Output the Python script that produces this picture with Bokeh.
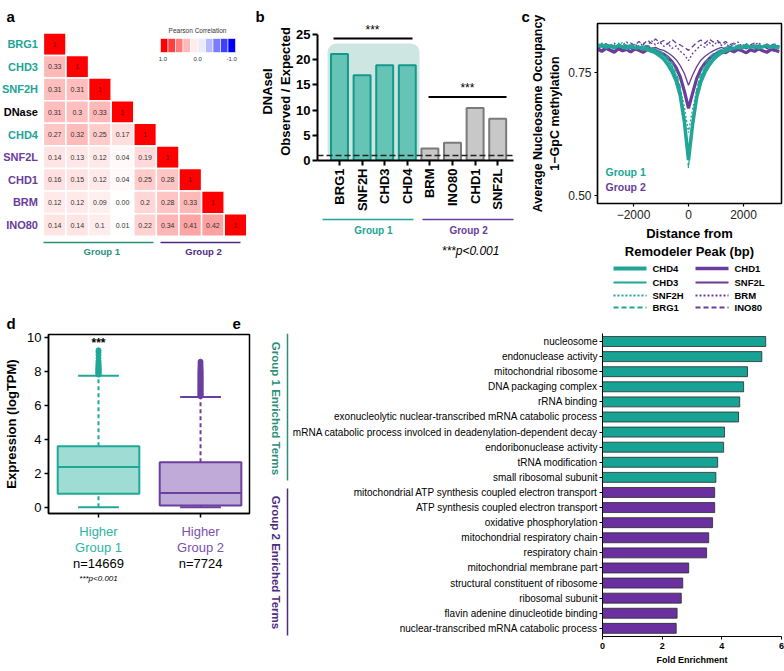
from math import pi
from bokeh.plotting import figure
from bokeh.models import (Range1d, FixedTicker, Span, BoxAnnotation, ColumnDataSource,
                          LinearColorMapper, NumeralTickFormatter)
from bokeh.core.properties import value, field
from bokeh.embed import file_html
from bokeh.resources import INLINE

FONT = "Liberation Sans"
TEAL = "#20a596"
TEAL_DK = "#2b8f7a"
PURPLE = "#6a3d9a"
PURPLE_DK = "#4e2a80"

# ---------------- DATA ----------------
# (a) correlation heatmap, lower triangle
hm_labels = ["BRG1", "CHD3", "SNF2H", "DNase", "CHD4", "SNF2L", "CHD1", "BRM", "INO80"]
hm_group = ["g1", "g1", "g1", "dn", "g1", "g2", "g2", "g2", "g2"]
hm_text = [
    ["1"],
    ["0.33", "1"],
    ["0.31", "0.31", "1"],
    ["0.31", "0.3", "0.33", "1"],
    ["0.27", "0.32", "0.25", "0.17", "1"],
    ["0.14", "0.13", "0.12", "0.04", "0.19", "1"],
    ["0.16", "0.15", "0.12", "0.04", "0.25", "0.28", "1"],
    ["0.12", "0.12", "0.09", "0.00", "0.2", "0.28", "0.33", "1"],
    ["0.14", "0.14", "0.1", "0.01", "0.22", "0.34", "0.41", "0.42", "1"],
]
cb_vals = [1.0, 0.78, 0.56, 0.33, 0.11, -0.11, -0.33, -0.56, -0.78, -1.0]
cb_ticks = ["1.0", "0.0", "-1.0"]

# (b) DNaseI observed / expected
b_cats = ["BRG1", "SNF2H", "CHD3", "CHD4", "BRM", "INO80", "CHD1", "SNF2L"]
b_vals = [21.1, 16.9, 18.9, 18.9, 2.4, 3.5, 10.4, 8.3]
b_group = [1, 1, 1, 1, 2, 2, 2, 2]
b_expected = 1.0

# (c) nucleosome occupancy profiles
c_x = [-3300, -3150, -3000, -2850, -2700, -2550, -2400, -2250, -2100, -1950, -1800, -1650,
       -1500, -1350, -1200, -1050, -900, -750, -600, -450, -300, -150, 0, 150, 300, 450,
       600, 750, 900, 1050, 1200, 1350, 1500, 1650, 1800, 1950, 2100, 2250, 2400, 2550,
       2700, 2850, 3000, 3150, 3300]
c_chd4 = [0.803, 0.806, 0.801, 0.804, 0.800, 0.805, 0.802, 0.799, 0.803, 0.800, 0.801, 0.798,
          0.797, 0.794, 0.790, 0.784, 0.777, 0.766, 0.752, 0.733, 0.703, 0.650, 0.572, 0.645,
          0.700, 0.731, 0.751, 0.765, 0.776, 0.784, 0.790, 0.794, 0.797, 0.799, 0.801, 0.800,
          0.803, 0.801, 0.804, 0.800, 0.802, 0.805, 0.801, 0.803, 0.800]
c_chd3 = [0.806, 0.801, 0.808, 0.803, 0.799, 0.807, 0.804, 0.800, 0.806, 0.802, 0.799, 0.804,
          0.800, 0.798, 0.795, 0.790, 0.784, 0.775, 0.762, 0.742, 0.712, 0.655, 0.578, 0.650,
          0.708, 0.740, 0.760, 0.773, 0.783, 0.789, 0.794, 0.797, 0.801, 0.798, 0.804, 0.800,
          0.806, 0.802, 0.799, 0.805, 0.801, 0.807, 0.803, 0.800, 0.805]
c_snf2h = [0.805, 0.810, 0.803, 0.808, 0.801, 0.806, 0.811, 0.804, 0.807, 0.800, 0.805, 0.802,
           0.806, 0.801, 0.797, 0.792, 0.785, 0.776, 0.763, 0.745, 0.718, 0.680, 0.628, 0.676,
           0.715, 0.743, 0.760, 0.774, 0.784, 0.791, 0.796, 0.800, 0.803, 0.807, 0.801, 0.805,
           0.809, 0.802, 0.806, 0.800, 0.804, 0.808, 0.802, 0.806, 0.801]
c_brg1 = [0.809, 0.803, 0.807, 0.800, 0.805, 0.810, 0.802, 0.806, 0.801, 0.808, 0.803, 0.800,
          0.805, 0.801, 0.798, 0.794, 0.789, 0.781, 0.770, 0.752, 0.720, 0.660, 0.556, 0.655,
          0.716, 0.750, 0.768, 0.780, 0.788, 0.793, 0.797, 0.801, 0.804, 0.800, 0.806, 0.802,
          0.808, 0.803, 0.800, 0.807, 0.802, 0.806, 0.801, 0.808, 0.803]
c_chd1 = [0.797, 0.793, 0.799, 0.795, 0.791, 0.798, 0.794, 0.797, 0.792, 0.798, 0.795, 0.791,
          0.797, 0.793, 0.795, 0.790, 0.787, 0.781, 0.772, 0.760, 0.741, 0.712, 0.677, 0.708,
          0.738, 0.757, 0.769, 0.778, 0.785, 0.789, 0.793, 0.790, 0.796, 0.792, 0.797, 0.794,
          0.790, 0.796, 0.793, 0.798, 0.794, 0.791, 0.797, 0.795, 0.792]
c_snf2l = [0.800, 0.796, 0.803, 0.798, 0.794, 0.801, 0.797, 0.804, 0.799, 0.795, 0.802, 0.798,
           0.803, 0.799, 0.801, 0.797, 0.795, 0.790, 0.784, 0.776, 0.764, 0.748, 0.724, 0.745,
           0.762, 0.775, 0.783, 0.789, 0.794, 0.798, 0.801, 0.797, 0.803, 0.799, 0.796, 0.802,
           0.798, 0.804, 0.800, 0.797, 0.803, 0.799, 0.795, 0.801, 0.798]
c_brm = [0.802, 0.807, 0.799, 0.805, 0.810, 0.801, 0.806, 0.812, 0.803, 0.808, 0.800, 0.811,
         0.804, 0.815, 0.806, 0.812, 0.803, 0.809, 0.799, 0.804, 0.793, 0.786, 0.774, 0.789,
         0.797, 0.806, 0.801, 0.811, 0.804, 0.813, 0.805, 0.809, 0.802, 0.807, 0.812, 0.803,
         0.808, 0.800, 0.806, 0.811, 0.802, 0.807, 0.799, 0.805, 0.801]
c_ino80 = [0.799, 0.804, 0.809, 0.801, 0.806, 0.800, 0.807, 0.803, 0.810, 0.805, 0.813, 0.806,
           0.816, 0.809, 0.818, 0.811, 0.815, 0.808, 0.817, 0.810, 0.806, 0.801, 0.795, 0.803,
           0.811, 0.816, 0.809, 0.818, 0.812, 0.815, 0.808, 0.813, 0.806, 0.810, 0.804, 0.808,
           0.801, 0.806, 0.810, 0.803, 0.807, 0.800, 0.805, 0.809, 0.802]

# (d) expression box plots
d_labels = ["Higher", "Higher"]
d_groups = ["Group 1", "Group 2"]
d_n = ["n=14669", "n=7724"]
d_lo = [0.0, 0.0]
d_q1 = [0.79, 0.10]
d_med = [2.36, 0.83]
d_q3 = [3.58, 2.65]
d_hi = [7.74, 6.48]
d_out1 = [7.80, 7.84, 7.87, 7.91, 7.95, 7.98, 8.02, 8.06, 8.10, 8.13, 8.17, 8.21, 8.26, 8.31,
          8.36, 8.42, 8.50, 8.61, 8.78, 8.97, 9.12, 9.23]
d_out2 = [6.53, 6.58, 6.62, 6.67, 6.71, 6.76, 6.81, 6.85, 6.90, 6.95, 7.00, 7.04, 7.09, 7.14,
          7.19, 7.23, 7.28, 7.33, 7.38, 7.43, 7.47, 7.52, 7.57, 7.62, 7.67, 7.72, 7.77, 7.82,
          7.87, 7.92, 7.97, 8.03, 8.09, 8.16, 8.24, 8.33, 8.44, 8.56]

# (e) GO term enrichment
e_terms = ["nucleosome", "endonuclease activity", "mitochondrial ribosome", "DNA packaging complex",
           "rRNA binding", "exonucleolytic nuclear-transcribed mRNA catabolic process",
           "mRNA catabolic process involced in deadenylation-dependent decay",
           "endoribonuclease activity", "tRNA modification", "small ribosomal subunit",
           "mitochondrial ATP synthesis coupled electron transport",
           "ATP synthesis coupled electron transport", "oxidative phosphorylation",
           "mitochondrial respiratory chain", "respiratory chain", "mitochondrial membrane part",
           "structural constituent of ribosome", "ribosomal subunit",
           "flavin adenine dinucleotide binding", "nuclear-transcribed mRNA catabolic process"]
e_vals = [5.47, 5.34, 4.86, 4.73, 4.60, 4.56, 4.09, 4.06, 3.86, 3.80,
          3.76, 3.76, 3.69, 3.56, 3.49, 2.89, 2.69, 2.64, 2.50, 2.47]
e_group = [1] * 10 + [2] * 10

# ---------------- helpers ----------------
roots = []


def fig(left, top, w, h, xr, yr, L, R, T, B, xloc=None, yloc=None):
    p = figure(width=w, height=h, x_range=xr, y_range=yr, toolbar_location=None,
               output_backend="svg", x_axis_location=xloc, y_axis_location=yloc, title=None)
    p.min_border_left = L
    p.min_border_right = R
    p.min_border_top = T
    p.min_border_bottom = B
    p.xgrid.grid_line_color = None
    p.ygrid.grid_line_color = None
    p.outline_line_color = None
    p.background_fill_alpha = 0
    p.border_fill_alpha = 0
    p.styles = {"position": "absolute", "left": "%dpx" % left, "top": "%dpx" % top}
    roots.append(p)
    return p


def style_axis(ax, size="12px", bold=False, lw=1.5, tick_out=4):
    ax.axis_line_width = lw
    ax.axis_line_color = "black"
    ax.major_tick_line_width = lw
    ax.major_tick_line_color = "black"
    ax.major_tick_out = tick_out
    ax.major_tick_in = 0
    ax.minor_tick_line_color = None
    ax.major_label_text_font = FONT
    ax.major_label_text_font_size = size
    ax.major_label_text_color = "black"
    ax.major_label_text_font_style = "bold" if bold else "normal"
    ax.axis_label_text_font = FONT
    ax.axis_label_text_font_style = "bold"
    ax.axis_label_text_color = "black"


def txt(p, xs, ys, texts, size, color="black", style="normal", align="center",
        baseline="middle", angle=0):
    p.text(x=xs, y=ys, text=texts, text_color=color, text_font_size=size,
           text_font_style=style, text_align=align, text_baseline=baseline, angle=angle,
           text_font=value(FONT))


def corr_rgb(v):
    f = abs(v) ** 1.15
    c = int(round(255 * (1 - f)))
    if v >= 0:
        return "#ff%02x%02x" % (c, c)
    return "#%02x%02xff" % (c, c)


palette = [corr_rgb(-1 + 2 * i / 200) for i in range(201)]
mapper = LinearColorMapper(palette=palette, low=-1, high=1)
grp_col = {"g1": TEAL, "g2": PURPLE, "dn": "black"}

# ---------------- panel a ----------------
pa = fig(0, 0, 250, 300, Range1d(-2.398, 8.664), Range1d(11.34, -1.934), 0, 0, 0, 0)
cx, cy, cv, ct, tcol = [], [], [], [], []
for j, rowvals in enumerate(hm_text):
    for i, t in enumerate(rowvals):
        cx.append(i)
        cy.append(j)
        cv.append(float(t))
        ct.append(t)
        tcol.append("#5c0a0a" if i == j else "#333333")
src_a = ColumnDataSource(dict(x=cx, y=cy, v=cv, t=ct, tcol=tcol))
pa.rect("x", "y", width=1, height=1, source=src_a,
        fill_color={"field": "v", "transform": mapper}, line_color="white", line_width=1.5)
pa.text("x", "y", text="t", source=src_a, text_align="center", text_baseline="middle",
        text_font_size="7px", text_color=field("tcol"), text_font=value(FONT))
txt(pa, [-0.74] * len(hm_labels), list(range(len(hm_labels))), hm_labels, "11px",
    color=[grp_col[g] for g in hm_group], style="bold", align="right")
cbx = [4.847 + 0.332 * k for k in range(len(cb_vals))]
pa.rect(x=cbx, y=[0.058] * len(cb_vals), width=0.332, height=0.62,
        fill_color=[corr_rgb(v) for v in cb_vals], line_color="white", line_width=0.6)
txt(pa, [6.32], [-0.61], ["Pearson Correlation"], "6.5px", color="#333")
txt(pa, [4.79, 6.33, 7.83], [0.64] * 3, cb_ticks, "6px", color="#333")
pa.segment(x0=[-0.495, 4.682], y0=[8.774, 8.774], x1=[4.372, 8.22], y1=[8.774, 8.774],
           line_color=[TEAL_DK, PURPLE_DK], line_width=1.5)
txt(pa, [2.084, 6.584], [9.17, 9.17], ["Group 1", "Group 2"], "9.5px",
    color=[TEAL_DK, PURPLE_DK], style="bold")

# ---------------- panel b ----------------
xr_b = Range1d(-0.973, 7.699)
pb = fig(250, 0, 268, 214, xr_b, Range1d(0, 27.36), 67, 5, 22, 53, xloc="below", yloc="left")
pb.add_layout(BoxAnnotation(left=-0.53, right=3.54, bottom=0, top=23.2, fill_color="#cde6e1",
                            fill_alpha=1, line_alpha=0, level="underlay", border_radius=9))
bidx = list(range(len(b_cats)))
pb.vbar(x=bidx, top=b_vals, width=0.75,
        fill_color=["#66c4b6" if g == 1 else "#c8c8c8" for g in b_group],
        line_color=["#14998a" if g == 1 else "#7a7a7a" for g in b_group], line_width=2)
pb.add_layout(Span(location=b_expected, dimension="width", line_color="#222", line_width=1.5,
                   line_dash="6 3"))
pb.segment(x0=[-0.265, 3.94], y0=[24.2, 12.6], x1=[3.23, 7.39], y1=[24.2, 12.6],
           line_color="black", line_width=2)
txt(pb, [1.46, 5.66], [25.9, 14.3], ["***", "***"], "12px")
for ax in pb.axis:
    style_axis(ax, size="13px", bold=True, lw=2, tick_out=5)
pb.xaxis.ticker = FixedTicker(ticks=bidx)
pb.xaxis.major_label_overrides = {i: c for i, c in enumerate(b_cats)}
pb.xaxis.major_label_orientation = pi / 2
pb.xaxis.major_label_standoff = 3
pb.yaxis.ticker = FixedTicker(ticks=[0, 5, 10, 15, 20, 25])
pb.yaxis.bounds = (0, 25)
pb.yaxis.axis_label = "DNAseI\nObserved / Expected"
pb.yaxis.axis_label_text_font_size = "13px"
pb.yaxis.axis_label_standoff = 0
pb.yaxis.major_label_standoff = 2

pb2 = fig(250, 214, 268, 86, xr_b, Range1d(86, 0), 67, 5, 0, 0)
pb2.segment(x0=[-0.75, 3.67], y0=[5, 5], x1=[3.27, 7.79], y1=[5, 5],
            line_color=[TEAL, PURPLE], line_width=1.5)
txt(pb2, [1.5, 5.71], [15.5, 15.5], ["Group 1", "Group 2"], "10px", color=[TEAL, PURPLE],
    style="bold")
txt(pb2, [5.8], [36], ["***p<0.001"], "12px", style="italic")

# ---------------- panel c ----------------
pc = fig(518, 0, 266, 262, Range1d(-3309, 3382), Range1d(0.4837, 0.8496), 79, 3, 23, 59,
         xloc="below", yloc="left")
pc.outline_line_color = "black"
pc.outline_line_width = 1.5
specs = [
    ("INO80", c_ino80, PURPLE, 1.3, "5 3"),
    ("BRM", c_brm, PURPLE, 1.3, "2 2"),
    ("SNF2L", c_snf2l, PURPLE, 1.3, "solid"),
    ("CHD1", c_chd1, PURPLE, 3.2, "solid"),
    ("BRG1", c_brg1, TEAL, 1.3, "5 3"),
    ("SNF2H", c_snf2h, TEAL, 1.3, "2 2"),
    ("CHD3", c_chd3, TEAL, 1.5, "solid"),
    ("CHD4", c_chd4, TEAL, 3.5, "solid"),
]
for name, ys, col, lw, dash in specs:
    pc.line(c_x, ys, line_color=col, line_width=lw, line_dash=dash)
txt(pc, [-3018, -3018], [0.547, 0.518], ["Group 1", "Group 2"], "10.5px",
    color=[TEAL, PURPLE], style="bold", align="left")
for ax in pc.axis:
    style_axis(ax, size="12px", bold=False, lw=1.2, tick_out=3)
    ax.major_label_text_color = "#222"
pc.xaxis.ticker = FixedTicker(ticks=[-2000, 0, 2000])
pc.xaxis.major_label_overrides = {-2000: "\u22122000", 0: "0", 2000: "2000"}
pc.yaxis.ticker = FixedTicker(ticks=[0.5, 0.75])
pc.yaxis.formatter = NumeralTickFormatter(format="0.00")
pc.yaxis.axis_label = "Average Nucleosome Occupancy\n1\u2212GpC methylation"
pc.yaxis.axis_label_text_font_size = "12.5px"
pc.yaxis.axis_label_standoff = 3
pc.yaxis.major_label_standoff = 3
pc.xaxis.axis_label = "Distance from\nRemodeler Peak (bp)"
pc.xaxis.axis_label_text_font_size = "13px"
pc.xaxis.axis_label_standoff = 4
pc.xaxis.major_label_standoff = 3

# legend of panel c (own small canvas, positions in panel pixels)
pcl = fig(597, 262, 187, 52, Range1d(597, 784), Range1d(314, 262), 0, 0, 0, 0)
order = ["CHD4", "CHD3", "SNF2H", "BRG1", "CHD1", "SNF2L", "BRM", "INO80"]
spec_d = {s[0]: s for s in specs}
leg_rows = [268, 282, 295, 307]
for k, name in enumerate(order):
    _, _, col, lw, dash = spec_d[name]
    x0 = 613 if k < 4 else 695
    yy = leg_rows[k % 4]
    pcl.line([x0, x0 + 33], [yy, yy], line_color=col, line_width=lw + 0.5, line_dash=dash)
    txt(pcl, [x0 + 39], [yy], [name], "9.5px", style="bold", align="left")

# ---------------- panel d ----------------
xr_d = Range1d(0.5098, 2.48)
pd = fig(0, 320, 258, 230, xr_d, Range1d(-0.37, 10.16), 48, 9, 14, 37,
         xloc="below", yloc="left")
pd.outline_line_color = "black"
pd.outline_line_width = 1.5
dx = [1, 2]
d_fill = ["#9fdcd3", "#c0aad8"]
d_line = ["#1fa898", "#6b3fa0"]
pd.segment(x0=dx, y0=d_q3, x1=dx, y1=d_hi, line_color=d_line, line_width=2, line_dash="4 3")
pd.segment(x0=dx, y0=d_lo, x1=dx, y1=d_q1, line_color=d_line, line_width=2, line_dash="4 3")
pd.segment(x0=[x - 0.2 for x in dx], y0=d_hi, x1=[x + 0.2 for x in dx], y1=d_hi,
           line_color=d_line, line_width=2)
pd.segment(x0=[x - 0.2 for x in dx], y0=d_lo, x1=[x + 0.2 for x in dx], y1=d_lo,
           line_color=d_line, line_width=2)
pd.quad(left=[x - 0.4 for x in dx], right=[x + 0.4 for x in dx], bottom=d_q1, top=d_q3,
        fill_color=d_fill, line_color=d_line, line_width=2)
pd.segment(x0=[x - 0.4 for x in dx], y0=d_med, x1=[x + 0.4 for x in dx], y1=d_med,
           line_color=d_line, line_width=2)
pd.scatter(x=[1] * len(d_out1), y=d_out1, size=5, color=d_line[0])
pd.scatter(x=[2] * len(d_out2), y=d_out2, size=5, color=d_line[1])
txt(pd, [1], [9.65], ["***"], "12px", style="bold")
for ax in pd.axis:
    style_axis(ax, size="13px", bold=False, lw=1.5, tick_out=4)
pd.yaxis.ticker = FixedTicker(ticks=[0, 2, 4, 6, 8, 10])
pd.yaxis.axis_label = "Expression (logTPM)"
pd.yaxis.axis_label_text_font_size = "13px"
pd.yaxis.major_label_standoff = 3
pd.xaxis.ticker = FixedTicker(ticks=dx)
pd.xaxis.major_label_overrides = {1: " ", 2: " "}

pd2 = fig(0, 518, 258, 70, xr_d, Range1d(588, 518), 48, 9, 0, 0)
d_col_txt = ["#2cb3a3", "#7b4fae"]
txt(pd2, dx, [530.7, 530.7], d_labels, "13px", color=d_col_txt)
txt(pd2, dx, [546.7, 546.7], d_groups, "13px", color=d_col_txt)
txt(pd2, dx, [562.7, 562.7], d_n, "13px")
txt(pd2, [1], [577.5], ["***p<0.001"], "8px", style="italic")

# ---------------- panel e ----------------
yr_e = Range1d(19.54, -0.53)
pel = fig(258, 320, 34, 349, Range1d(258, 292), yr_e, 0, 0, 13, 33)
pel.segment(x0=[287, 287], y0=[-0.53, 9.74], x1=[287, 287], y1=[9.2, 19.47],
            line_color=[TEAL_DK, PURPLE_DK], line_width=1.5)
txt(pel, [275, 275], [4.44, 14.64], ["Group 1 Enriched Terms", "Group 2 Enriched Terms"],
    "11.5px", color=[TEAL_DK, PURPLE_DK], style="bold", angle=-pi / 2)

pe = fig(288, 320, 496, 349, Range1d(0, 6), yr_e, 314, 3, 13, 33, xloc="below", yloc="left")
eidx = list(range(len(e_terms)))
pe.hbar(y=eidx, right=e_vals, left=0, height=0.66,
        fill_color=["#16a393" if g == 1 else "#6a30a0" for g in e_group],
        line_color="#2a2a2a", line_width=0.8)
for ax in pe.axis:
    style_axis(ax, size="9px", bold=True, lw=1, tick_out=3)
pe.yaxis.ticker = FixedTicker(ticks=eidx)
pe.yaxis.major_label_overrides = {i: t for i, t in enumerate(e_terms)}
pe.yaxis.major_label_text_font_style = "normal"
pe.yaxis.major_label_text_font_size = "10px"
pe.yaxis.major_label_standoff = 2
pe.xaxis.ticker = FixedTicker(ticks=[0, 2, 4, 6])
pe.xaxis.axis_label = "Fold Enrichment"
pe.xaxis.axis_label_text_font_size = "9px"
pe.xaxis.axis_label_standoff = 3
pe.xaxis.major_label_standoff = 3

# ---------------- panel letters ----------------
pl = fig(0, 0, 784, 671, Range1d(0, 784), Range1d(671, 0), 0, 0, 0, 0)
txt(pl, [6, 255, 521, 6, 232], [16, 16, 16, 323, 323], ["a", "b", "c", "d", "e"], "15px",
    style="bold", align="left", baseline="alphabetic")

open("out.html", "w").write(file_html(roots, INLINE))
